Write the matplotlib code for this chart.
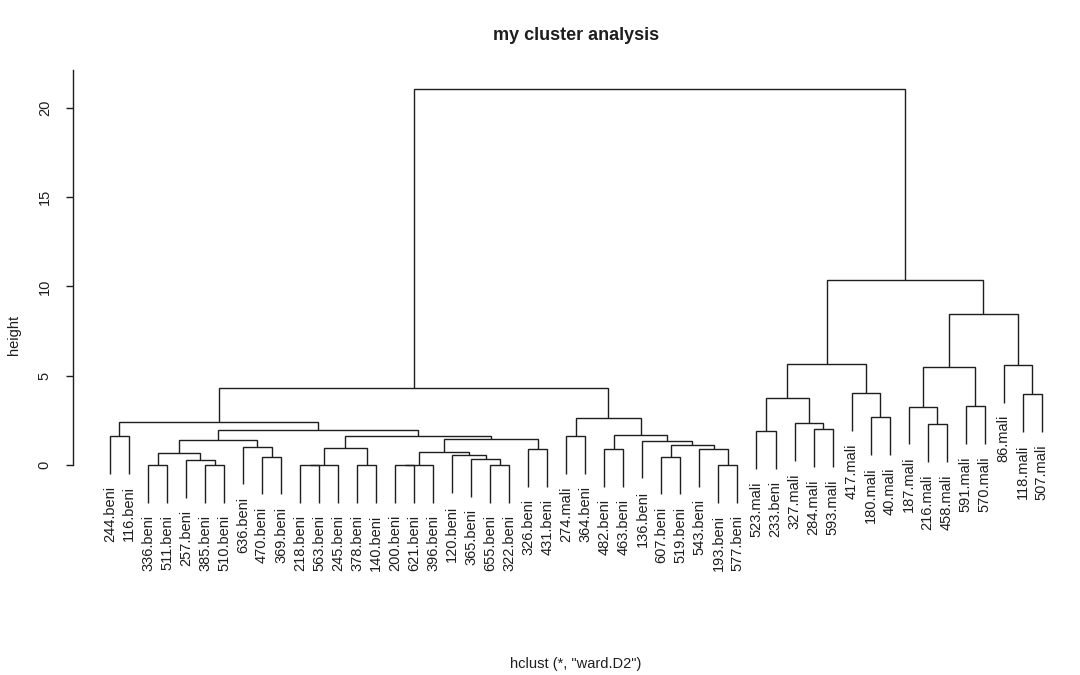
import matplotlib
matplotlib.use("Agg")
import matplotlib.pyplot as plt

plt.rcParams['font.family'] = ['Liberation Sans', 'DejaVu Sans']

# leaf labels in plotting order (left to right)
labels = ["244.beni", "116.beni", "336.beni", "511.beni", "257.beni", "385.beni",
          "510.beni", "636.beni", "470.beni", "369.beni", "218.beni", "563.beni",
          "245.beni", "378.beni", "140.beni", "200.beni", "621.beni", "396.beni",
          "120.beni", "365.beni", "655.beni", "322.beni", "326.beni", "431.beni",
          "274.mali", "364.beni", "482.beni", "463.beni", "136.beni", "607.beni",
          "519.beni", "543.beni", "193.beni", "577.beni", "523.mali", "233.beni",
          "327.mali", "284.mali", "593.mali", "417.mali", "180.mali", "40.mali",
          "187.mali", "216.mali", "458.mali", "591.mali", "570.mali", "86.mali",
          "118.mali", "507.mali"]

# merge table like R's hclust: negative = leaf position, positive = earlier merge
merges = [(-3, -4), (-6, -7), (-5, 2), (1, 3), (-9, -10), (-8, 5), (4, 6),
          (-11, -12), (8, -13), (-14, -15), (9, 10), (-16, -17), (12, -18),
          (-21, -22), (-20, 14), (-19, 15), (13, 16), (-23, -24), (17, 18),
          (11, 19), (7, 20), (-1, -2), (22, 21), (-25, -26), (-27, -28),
          (-30, -31), (-33, -34), (-32, 27), (26, 28), (-29, 29), (25, 30),
          (24, 31), (23, 32), (-35, -36), (-38, -39), (-37, 35), (34, 36),
          (-41, -42), (-40, 38), (37, 39), (-44, -45), (-43, 41), (-46, -47),
          (42, 43), (-49, -50), (-48, 45), (44, 46), (40, 47), (33, 48)]
heights = [0.0, 0.0, 0.28, 0.65, 0.47, 1.03, 1.42,
           0.0, 0.0, 0.0, 0.97, 0.0, 0.0,
           0.0, 0.33, 0.55, 0.75, 0.9, 1.45,
           1.6, 1.96, 1.62, 2.43, 1.62, 0.88,
           0.47, 0.0, 0.88, 1.12, 1.36, 1.7,
           2.65, 4.3, 1.9, 2.0, 2.33, 3.77,
           2.67, 4.02, 5.66, 2.28, 3.27, 3.3,
           5.47, 3.96, 5.6, 8.46, 10.36, 21.05]

hang = 0.1 * max(heights)
ink = "#1e1e1e"

fig = plt.figure(figsize=(10.8, 6.75), dpi=100)
# plot region in pixels: x 72.7..1079, y 70.5..600
ax = fig.add_axes([72.7 / 1080, 75 / 675, (1079 - 72.7) / 1080, (600 - 70.5) / 675])

mx = []
for k, (a, b) in enumerate(merges):
    h = heights[k]
    xs, ys = [], []
    for c in (a, b):
        if c < 0:
            xs.append(-c)
            ys.append(h - hang)
        else:
            xs.append(mx[c - 1])
            ys.append(heights[c - 1])
    ax.plot([xs[0], xs[0], xs[1], xs[1]], [ys[0], h, h, ys[1]],
            color=ink, lw=1.0, solid_capstyle='butt', solid_joinstyle='miter')
    mx.append((xs[0] + xs[1]) / 2)
    for c, x in zip((a, b), xs):
        if c < 0:
            ax.annotate(labels[-c - 1], xy=(x, h - hang), xytext=(0, -9),
                        textcoords='offset points', rotation=90,
                        ha='center', va='top', fontsize=10.5, color=ink)

ax.set_xlim(1 - 1.96, 50 + 1.96)
ax.set_ylim(-(600 - 465) / 17.85, (465 - 70.5) / 17.85)

for s in ['top', 'right', 'bottom']:
    ax.spines[s].set_visible(False)
ax.spines['left'].set_bounds(0, (465 - 70.5) / 17.85)
ax.spines['left'].set_color(ink)
ax.spines['left'].set_linewidth(1.0)
ax.set_xticks([])
ax.set_yticks([0, 5, 10, 15, 20])
ax.tick_params(axis='y', direction='out', length=5, width=1.0, color=ink,
               pad=10, labelsize=10.5, labelcolor=ink)
for t in ax.get_yticklabels():
    t.set_rotation(90)
    t.set_va('center')

fig.text(576 / 1080, 1 - 35 / 675, "my cluster analysis", ha='center', va='center',
         fontsize=13, fontweight='bold', color=ink)
fig.text(576 / 1080, 1 - 664 / 675, 'hclust (*, "ward.D2")', ha='center', va='center',
         fontsize=10.5, color=ink)
fig.text(14 / 1080, 1 - 335 / 675, "height", ha='center', va='center',
         rotation=90, fontsize=10.5, color=ink)

fig.savefig("out.png", dpi=100)
